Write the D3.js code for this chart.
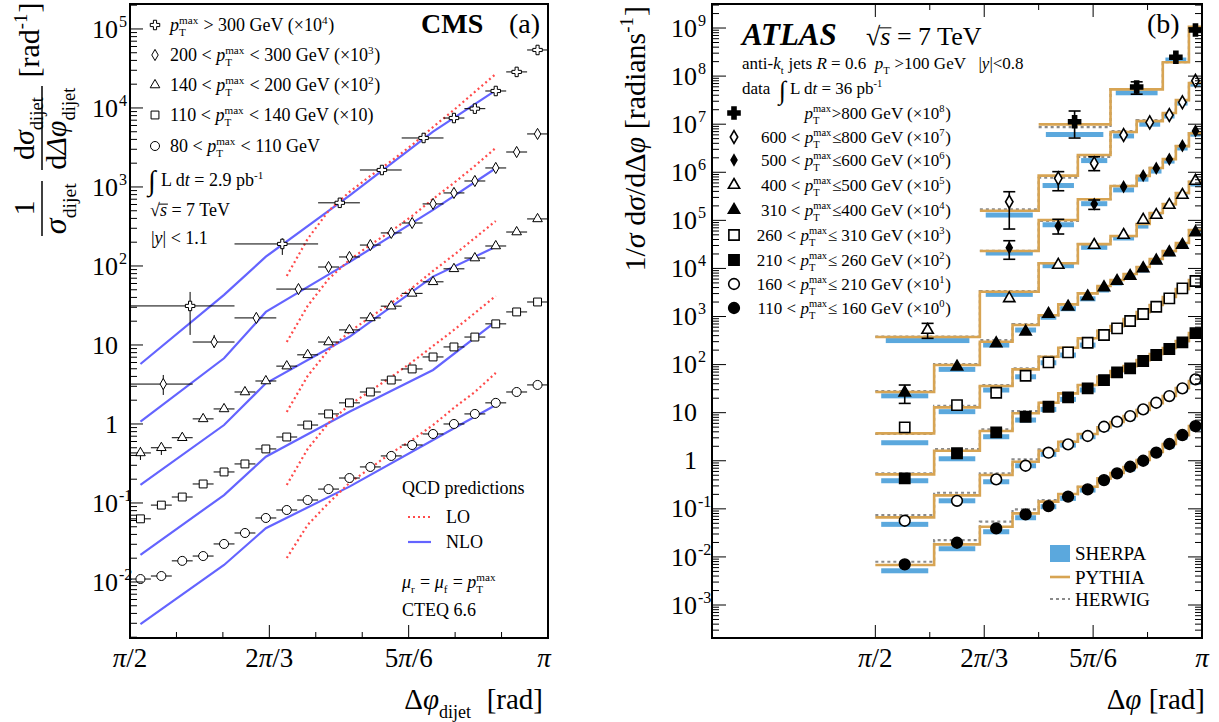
<!DOCTYPE html>
<html>
<head>
<meta charset="utf-8">
<script src="https://cdn.jsdelivr.net/npm/d3@7"></script>
<style>
body { margin: 0; background: #fff; }
svg { font-family: "Liberation Serif", "Times New Roman", serif; }
svg text { white-space: pre; fill: #000; }
</style>
</head>
<body>
<svg id="chart" width="1219" height="722"></svg>
<script>
// ---------- (a) CMS : x in units of pi ----------
const cmsBins = [0.5125, 0.5375, 0.5625, 0.5875, 0.6125, 0.6375, 0.6625, 0.6875, 0.7125, 0.7375,
  0.7625, 0.7875, 0.8125, 0.8375, 0.8625, 0.8875, 0.9125, 0.9375, 0.9625, 0.9875];
const cmsHalfBin = 0.0125;

const cmsCircle = [0.0109, 0.0119, 0.0185, 0.0213, 0.0303, 0.0417, 0.0646, 0.0815, 0.109, 0.150,
  0.207, 0.286, 0.394, 0.542, 0.747, 1.0, 1.34, 1.85, 2.54, 3.12];
const cmsSquare = [0.063, 0.094, 0.119, 0.174, 0.247, 0.312, 0.483, 0.684, 0.97, 1.34,
  1.85, 2.54, 3.6, 4.97, 7.05, 9.44, 12.6, 18.5, 26.2, 35];
const cmsTriangle = [0.43, 0.50, 0.67, 1.16, 1.55, 2.54, 3.5, 5.4, 7.5, 10.9,
  15.5, 22, 31, 45, 63, 92, 126, 179, 269, 394];
const cmsTriangleErr = [[0.35, 0.512], [0.405, 0.57]];

const cmsDiamondX = [0.5398, 0.6007, 0.6511, 0.7015, 0.7375, 0.7625, 0.7875, 0.8125, 0.8375, 0.8625, 0.8875, 0.9125, 0.9375, 0.9625, 0.9875];
const cmsDiamondLo = [0.5, 0.575, 0.625, 0.675, 0.725, 0.75, 0.775, 0.8, 0.825, 0.85, 0.875, 0.9, 0.925, 0.95, 0.975];
const cmsDiamondHi = [0.575, 0.625, 0.675, 0.725, 0.75, 0.775, 0.8, 0.825, 0.85, 0.875, 0.9, 0.925, 0.95, 0.975, 1.0];
const cmsDiamond = [3.2, 10.9, 22.0, 51, 97, 130, 184, 262, 350, 610, 840, 1190, 1740, 2770, 4690];
const cmsDiamondErr = [[2.33, 4.17], [9.2, 13.4]];

const cmsCrossX = [0.5719, 0.6822, 0.7509, 0.8013, 0.8512, 0.8875, 0.9125, 0.9375, 0.9625, 0.9875];
const cmsCrossLo = [0.5, 0.625, 0.725, 0.775, 0.825, 0.875, 0.9, 0.925, 0.95, 0.975];
const cmsCrossHi = [0.625, 0.725, 0.775, 0.825, 0.875, 0.9, 0.925, 0.95, 0.975, 1.0];
const cmsCross = [31.2, 190, 630, 1640, 4170, 7460, 9800, 16400, 28600, 54200];
const cmsCrossErr = [[13.4, 46.9], [138, 224], [558, 684]];

// NLO (solid) and LO (dotted) predictions
const nloX = [0.5125, 0.6125, 0.6625, 0.7625, 0.8625, 0.9375];
const nloCross = [5.74, 43, 131, 776, 5012, 16700];
const nloDiamond = [1.07, 6.79, 26.2, 112, 512, 1726];
const nloTriangle = [0.169, 0.97, 3.27, 12.7, 73.3, 175];
const nloSquare = [0.022, 0.126, 0.385, 1.43, 4.83, 19.7];
const nloCircle = [0.00292, 0.0164, 0.0479, 0.161, 0.627, 1.74];

const loX = [0.6875, 0.7125, 0.7375, 0.7625, 0.7875, 0.8125, 0.8375, 0.8625, 0.8875, 0.9125, 0.9375];
const loCross = [74.7, 220, 497, 865, 1377, 2133, 3404, 5744, 9441, 15950, 26940];
const loDiamond = [10.9, 31.2, 68.4, 119, 185, 277, 430, 705, 1125, 1845, 3119];
const loTriangle = [1.42, 4.05, 8.65, 14.6, 22.6, 34.0, 52.7, 86.5, 138, 226, 371];
const loSquare = [0.169, 0.483, 1.03, 1.74, 2.62, 3.94, 6.1, 9.71, 15.5, 25.4, 41.7];
const loCircle = [0.0201, 0.0527, 0.1, 0.179, 0.277, 0.43, 0.627, 0.97, 1.6, 2.54, 4.43];

const cmsLegend = [
  '~p~_{T}^{max} > 300 GeV (×10^{4})',
  '200 < ~p~_{T}^{max} < 300 GeV (×10^{3})',
  '140 < ~p~_{T}^{max} < 200 GeV (×10^{2})',
  '110 < ~p~_{T}^{max} < 140 GeV (×10)',
  '80 < ~p~_{T}^{max} < 110 GeV'
];

// ---------- (b) ATLAS ----------
const atlasEdges = [0.5, 0.59, 0.66, 0.71, 0.75, 0.78, 0.81, 0.84, 0.86, 0.88, 0.90, 0.92, 0.94, 0.96, 0.98, 1.0];
const atlasEdges400 = [0.5, 0.66, 0.75, 0.81, 0.86, 0.90, 0.92, 0.94, 0.96, 0.98, 1.0];
const atlasEdges500 = [0.66, 0.75, 0.81, 0.86, 0.90, 0.92, 0.94, 0.96, 0.98, 1.0];
const atlasEdges600 = [0.66, 0.75, 0.81, 0.86, 0.90, 0.94, 0.96, 0.98, 1.0];
const atlasEdges800 = [0.75, 0.86, 0.94, 0.98, 1.0];

const data110 = [0.00701, 0.0197, 0.0393, 0.0767, 0.114, 0.179, 0.255, 0.397, 0.547, 0.751, 1.0, 1.47, 2.23, 3.43, 5.27];
const pythia110 = [0.00678, 0.0182, 0.0425, 0.0805, 0.141, 0.203, 0.288, 0.431, 0.556, 0.74, 1.035, 1.52, 2.23, 3.43, 5.27];
const sherpa110 = [0.00515, 0.0148, 0.0334, 0.0653, 0.111, 0.165, 0.246, 0.378, 0.505, 0.673, 0.94, 1.38, 2.02, 3.11, 4.8];
const herwig110 = [0.00794, 0.0224, 0.054, 0.0977, 0.152, 0.203, 0.288, 0.431, 0.556, 0.74, 1.035, 1.52, 2.23, 3.43, 5.27];

const data160 = [0.0565, 0.147, 0.41, 0.787, 1.47, 2.19, 3.27, 5.1, 6.49, 8.5, 11.7, 16.1, 22.2, 32.1, 49.3];
const pythia160 = [0.0665, 0.191, 0.505, 0.955, 1.61, 2.49, 3.6, 4.95, 6.38, 8.51, 11.4, 15.8, 22.2, 32.5, 45.5];
const sherpa160 = [0.0476, 0.147, 0.366, 0.787, 1.36, 2.12, 3.16, 4.57, 5.81, 7.74, 10.8, 15.1, 21.1, 29.6, 43.4];
const herwig160 = [0.0743, 0.216, 0.547, 1.07, 1.73, 2.49, 3.6, 4.95, 6.38, 8.51, 11.4, 15.8, 22.2, 32.5, 45.5];

const data210 = [0.431, 1.43, 3.9, 8.24, 13.3, 20.8, 32.1, 47.7, 69, 83.6, 119, 158, 211, 290, 450];
const pythia210 = [0.522, 1.61, 4.15, 9.7, 16.1, 25.2, 37.6, 55.8, 73.5, 93.3, 124, 166, 221, 309, 453];
const sherpa210 = [0.384, 1.1, 3.16, 7.03, 11.7, 18.9, 29.6, 45.5, 63.7, 84.7, 113, 151, 201, 281, 412];
const herwig210 = [0.547, 1.75, 4.5, 10.8, 16.1, 25.2, 37.6, 55.8, 73.5, 93.3, 124, 166, 221, 309, 453];

const data260 = [4.95, 14.4, 26.0, 58.6, 111, 180, 285, 412, 568, 805, 1127, 1596, 2390, 3855, 5470];
const pythia260 = [3.72, 12.9, 35.8, 79.6, 146, 224, 352, 506, 634, 887, 1240, 1734, 2541, 3724, 5741];
const sherpa260 = [2.37, 10.5, 29.6, 55.8, 109, 158, 255, 374, 524, 767, 1074, 1574, 2312, 3556, 5212];
const herwig260 = [3.6, 13.8, 37.6, 83.6, 146, 224, 352, 506, 634, 887, 1240, 1734, 2541, 3724, 5741];

const data310 = [26, 90.2, 277, 482, 1127, 1596, 2606, 4046, 5470, 6950, 10000, 14500, 21600, 30700, 56000];
const pythia310 = [27, 98, 299, 665, 1059, 1790, 3030, 4300, 5740, 7660, 10700, 15700, 23000, 33700, 63000];
const sherpa310 = [22.4, 79.6, 255, 524, 966, 1452, 2333, 3560, 4970, 6620, 9270, 13600, 20000, 29200, 54500];
const herwig310 = [28.2, 103, 324, 698, 1059, 1790, 3030, 4300, 5740, 7660, 10700, 15700, 23000, 33700, 63000];
const err310 = [[15.6, 37.6]];

const data400 = [524, 2390, 11800, 30700, 49600, 102000, 129000, 208000, 337000, 660000];
const pythia400 = [374, 3270, 12800, 32000, 47200, 84000, 142000, 218000, 370000, 630000];
const sherpa400 = [316, 2890, 11400, 27500, 43000, 76000, 129000, 199000, 337000, 570000];
const herwig400 = [380, 3390, 12900, 32000, 47200, 84000, 142000, 218000, 370000, 630000];
const err400 = [[352, 721]];

const data500 = [2.7e4, 7.6e4, 2.18e5, 5.0e5, 8.5e5, 1.21e6, 1.86e6, 3.56e6, 7.2e6];
const pythia500 = [2.3e4, 1.02e5, 2.74e5, 5.2e5, 8.4e5, 1.23e6, 1.88e6, 3.5e6, 6.5e6];
const sherpa500 = [2.09e4, 8.1e4, 2.22e5, 4.3e5, 7.2e5, 1.06e6, 1.71e6, 3.2e6, 6.2e6];
const herwig500 = [2.33e4, 9.7e4, 2.77e5, 5.2e5, 8.4e5, 1.23e6, 1.88e6, 3.5e6, 6.5e6];
const err500 = [[1.55e4, 3.77e4], [5.2e4, 1.05e5], [1.69e5, 2.65e5]];

const data600 = [2.44e5, 7.48e5, 1.53e6, 5.96e6, 1.09e7, 1.55e7, 2.85e7, 8.0e7];
const pythia600 = [1.58e5, 8.5e5, 2.28e6, 6.9e6, 1.16e7, 1.71e7, 3.16e7, 7.2e7];
const sherpa600 = [1.29e5, 5.3e5, 1.75e6, 5.7e6, 1.0e7, 1.48e7, 2.75e7, 6.8e7];
const herwig600 = [1.69e5, 7.7e5, 2.1e6, 7.2e6, 1.22e7, 1.71e7, 3.16e7, 7.2e7];
const err600 = [[6.6e4, 3.94e5], [4.13e5, 1.03e6], [1.08e6, 2.1e6]];

const data800 = [1.12e7, 5.93e7, 2.46e8, 9.1e8];
const pythia800 = [9.9e6, 5.3e7, 1.94e8, 1.06e9];
const sherpa800 = [6.1e6, 4.5e7, 2.16e8, 9.8e8];
const herwig800 = [8.7e6, 5.4e7, 1.96e8, 1.05e9];
const err800 = [[5.15e6, 1.88e7], [4.2e7, 7.6e7]];

const atlasLegend = [
  '~p~_{T}^{max}>800 GeV (×10^{8})',
  '600 < ~p~_{T}^{max}≤800 GeV (×10^{7})',
  '500 < ~p~_{T}^{max}≤600 GeV (×10^{6})',
  '400 < ~p~_{T}^{max}≤500 GeV (×10^{5})',
  '310 < ~p~_{T}^{max}≤400 GeV (×10^{4})',
  '260 < ~p~_{T}^{max}≤ 310 GeV (×10^{3})',
  '210 < ~p~_{T}^{max}≤ 260 GeV (×10^{2})',
  '160 < ~p~_{T}^{max}≤ 210 GeV (×10^{1})',
  '110 < ~p~_{T}^{max}≤ 160 GeV (×10^{0})'
];

const xTickVals = [1 / 2, 2 / 3, 5 / 6, 1];
const xTickLabels = ['~π~/2', '2~π~/3', '5~π~/6', '~π~'];
const cmsXMinor = [5 / 9, 11 / 18, 13 / 18, 7 / 9, 8 / 9, 17 / 18];
const atlasXMinor = [7 / 12, 3 / 4, 11 / 12];

// ---------- helpers ----------
const svg = d3.select('#chart');

// ~ toggles italic, ` toggles overline, _{..} sub, ^{..} sup (stacked when adjacent)
function parse(s) {
  const out = [];
  let it = false, ov = false, buf = '', i = 0;
  const flush = () => { if (buf) out.push({t: buf, it, ov}); buf = ''; };
  while (i < s.length) {
    const c = s[i];
    if (c === '~') { flush(); it = !it; i++; continue; }
    if (c === '`') { flush(); ov = !ov; i++; continue; }
    if ((c === '_' || c === '^') && s[i + 1] === '{') {
      flush();
      const j = s.indexOf('}', i);
      const key = c === '_' ? 'sub' : 'sup';
      const prev = out[out.length - 1];
      if (prev && prev.script && prev.end === i && !prev[key]) prev[key] = s.slice(i + 2, j);
      else out.push({script: true, [key]: s.slice(i + 2, j)});
      out[out.length - 1].end = j + 1;
      i = j + 1;
      continue;
    }
    buf += c; i++;
  }
  flush();
  return out;
}

function rich(g, x, y, s, fs, anchor = 'start', weight = 'normal', forceItalic = false) {
  const grp = g.append('g');
  let w = 0;
  parse(s).forEach(p => {
    if (p.script) {
      let sw = 0;
      [['sup', -0.4], ['sub', 0.3]].forEach(([k, off]) => {
        if (!p[k]) return;
        const t = grp.append('text').attr('x', w).attr('y', off * fs)
          .style('font-size', (fs * 0.62) + 'px').text(p[k]);
        sw = Math.max(sw, t.node().getComputedTextLength());
      });
      w += sw + fs * 0.04;
    } else {
      const t = grp.append('text').attr('x', w).attr('y', 0)
        .style('font-size', fs + 'px')
        .style('font-style', (p.it || forceItalic) ? 'italic' : 'normal')
        .style('font-weight', weight)
        .text(p.t);
      const tw = t.node().getComputedTextLength();
      if (p.ov) {
        grp.append('line').attr('x1', w - 1).attr('x2', w + tw + 1)
          .attr('y1', -fs * 0.66).attr('y2', -fs * 0.66).attr('stroke', '#000').attr('stroke-width', 1);
      }
      w += tw;
    }
  });
  const dx = anchor === 'end' ? -w : anchor === 'middle' ? -w / 2 : 0;
  grp.attr('transform', `translate(${x + dx},${y})`);
  return w;
}

function marker(g, type, x, y, filled, size, sw = 1.2) {
  g.append('path')
    .attr('transform', `translate(${x},${y})`)
    .attr('d', d3.symbol().type(type).size(size)())
    .attr('fill', filled ? '#000' : '#fff')
    .attr('stroke', '#000')
    .attr('stroke-width', sw);
}

function logTicks(g, y, x0, dir, maj, min) {
  const [lo, hi] = y.domain();
  for (let k = Math.floor(Math.log10(lo)); k <= Math.ceil(Math.log10(hi)); k++) {
    for (let m = 1; m <= 9; m++) {
      const v = m * Math.pow(10, k);
      if (v < lo || v > hi) continue;
      const len = m === 1 ? maj : min;
      g.append('line').attr('x1', x0).attr('x2', x0 + dir * len)
        .attr('y1', y(v)).attr('y2', y(v)).attr('stroke', '#000').attr('stroke-width', 1);
    }
  }
}

function logLabels(g, y, xr, fs, kmin, kmax) {
  for (let k = kmin; k <= kmax; k++) {
    const yy = y(Math.pow(10, k)) + fs * 0.33;
    if (k === 0 || k === 1) {
      g.append('text').attr('x', xr).attr('y', yy).attr('text-anchor', 'end')
        .style('font-size', fs + 'px').text(k === 0 ? '1' : '10');
    } else {
      g.append('text').attr('x', xr).attr('y', yy).attr('text-anchor', 'end')
        .style('font-size', fs + 'px').text('10');
      g.append('text').attr('x', xr + 1).attr('y', yy - fs * 0.42)
        .style('font-size', (fs * 0.62) + 'px').text(String(k));
    }
  }
}

function xTicks(g, x, yb, vals, len, dir) {
  vals.forEach(v => g.append('line').attr('x1', x(v)).attr('x2', x(v))
    .attr('y1', yb).attr('y2', yb + dir * len).attr('stroke', '#000').attr('stroke-width', 1));
}

// ================= Panel (a) CMS =================
const cx = d3.scaleLinear().domain([0.5, 1]).range([130, 548]);
const cy = d3.scaleLog().domain([1.954e-3, 2.07e5]).range([638, 4]);
const gA = svg.append('g');

const nloColor = '#6464ff', loColor = '#ff4a4a';
const cmsLine = d3.line().x(d => cx(d[0])).y(d => cy(d[1]));
[nloCross, nloDiamond, nloTriangle, nloSquare, nloCircle].forEach(arr => {
  gA.append('path').datum(arr.map((v, i) => [nloX[i], v]))
    .attr('fill', 'none').attr('stroke', nloColor).attr('stroke-width', 2.2).attr('d', cmsLine);
});
[loCross, loDiamond, loTriangle, loSquare, loCircle].forEach(arr => {
  gA.append('path').datum(arr.map((v, i) => [loX[i], v]))
    .attr('fill', 'none').attr('stroke', loColor).attr('stroke-width', 2.2)
    .attr('stroke-dasharray', '2,3').attr('d', cmsLine);
});

const cmsSeries = [
  {type: d3.symbolCircle, size: 64, x: cmsBins, lo: cmsBins.map(c => c - cmsHalfBin), hi: cmsBins.map(c => c + cmsHalfBin), y: cmsCircle, err: []},
  {type: d3.symbolSquare, size: 62, x: cmsBins, lo: cmsBins.map(c => c - cmsHalfBin), hi: cmsBins.map(c => c + cmsHalfBin), y: cmsSquare, err: []},
  {type: d3.symbolTriangle, size: 40, x: cmsBins, lo: cmsBins.map(c => c - cmsHalfBin), hi: cmsBins.map(c => c + cmsHalfBin), y: cmsTriangle, err: cmsTriangleErr},
  {type: d3.symbolDiamond, size: 36, x: cmsDiamondX, lo: cmsDiamondLo, hi: cmsDiamondHi, y: cmsDiamond, err: cmsDiamondErr},
  {type: d3.symbolCross, size: 50, x: cmsCrossX, lo: cmsCrossLo, hi: cmsCrossHi, y: cmsCross, err: cmsCrossErr}
];

cmsSeries.forEach(s => {
  s.y.forEach((v, i) => {
    gA.append('line').attr('x1', cx(s.lo[i])).attr('x2', cx(s.hi[i]))
      .attr('y1', cy(v)).attr('y2', cy(v)).attr('stroke', '#000').attr('stroke-width', 1);
    if (s.err[i]) {
      gA.append('line').attr('x1', cx(s.x[i])).attr('x2', cx(s.x[i]))
        .attr('y1', cy(s.err[i][0])).attr('y2', cy(s.err[i][1])).attr('stroke', '#000').attr('stroke-width', 1);
    }
  });
  s.y.forEach((v, i) => marker(gA, s.type, cx(s.x[i]), cy(v), false, s.size, 1));
});

// frame + axes
gA.append('rect').attr('x', 130).attr('y', 4).attr('width', 418).attr('height', 634)
  .attr('fill', 'none').attr('stroke', '#000').attr('stroke-width', 2);
logTicks(gA, cy, 130, 1, 13, 7);
logLabels(gA, cy, 118, 26, -2, 5);
xTicks(gA, cx, 638, xTickVals, 13, -1);
xTicks(gA, cx, 638, cmsXMinor, 6, -1);
xTickVals.forEach((v, i) => rich(gA, cx(v) - (i === 3 ? 4 : 0), 667, xTickLabels[i], 27, 'middle'));
rich(gA, 543, 709, 'Δ~φ~_{dijet}  [rad]', 29, 'end');

// y title (rotated fractions)
const yt = gA.append('g').attr('transform', 'translate(42,0) rotate(-90)');
rich(yt, -208, -8, '1', 30, 'middle');
yt.append('line').attr('x1', -236).attr('x2', -181).attr('y1', 0).attr('y2', 0).attr('stroke', '#000').attr('stroke-width', 1.5);
rich(yt, -208, 24, '~σ~_{dijet}', 32, 'middle');
rich(yt, -128, -8, 'd~σ~_{dijet}', 30, 'middle');
yt.append('line').attr('x1', -170).attr('x2', -86).attr('y1', 0).attr('y2', 0).attr('stroke', '#000').attr('stroke-width', 1.5);
rich(yt, -128, 24, 'd~Δφ~_{dijet}', 30, 'middle');
rich(yt, -40, -3, '[rad^{-1}]', 30, 'middle');

// legend (a)
const legTypes = [[d3.symbolCross, 50], [d3.symbolDiamond, 36], [d3.symbolTriangle, 40], [d3.symbolSquare, 62], [d3.symbolCircle, 64]];
const legRowsA = [25, 55, 85, 115, 146];
cmsLegend.forEach((t, i) => {
  marker(gA, legTypes[i][0], 155, legRowsA[i], false, legTypes[i][1], 1);
  rich(gA, 170, legRowsA[i] + 6, t, 18);
});
gA.append('text').attr('x', 148).attr('y', 190).style('font-size', '28px').text('∫');
rich(gA, 161, 186, 'L d~t~ = 2.9 pb^{-1}', 18);
rich(gA, 150, 216, '√~`s`~ = 7 TeV', 18);
rich(gA, 151, 244, '|~y~| < 1.1', 18);
rich(gA, 421, 33, 'CMS', 28, 'start', 'bold');
rich(gA, 509, 33, '(a)', 28);

rich(gA, 402, 494, 'QCD predictions', 18);
gA.append('line').attr('x1', 408).attr('x2', 431).attr('y1', 517).attr('y2', 517)
  .attr('stroke', loColor).attr('stroke-width', 2.2).attr('stroke-dasharray', '2,3');
rich(gA, 446, 523, 'LO', 18);
gA.append('line').attr('x1', 408).attr('x2', 431).attr('y1', 542).attr('y2', 542)
  .attr('stroke', nloColor).attr('stroke-width', 2.2);
rich(gA, 446, 548, 'NLO', 18);
rich(gA, 402, 588, '~μ~_{r} = ~μ~_{f} = ~p~_{T}^{max}', 18);
rich(gA, 402, 616, 'CTEQ 6.6', 18);

// ================= Panel (b) ATLAS =================
const ax = d3.scaleLinear().domain([0.25, 1]).range([712, 1202]);
const ay = d3.scaleLog().domain([2.06e-4, 3.16e9]).range([638, 4]);
const gB = svg.append('g');

const atlasSeries = [
  {edges: atlasEdges, d: data110, p: pythia110, s: sherpa110, h: herwig110, err: [], type: d3.symbolCircle, size: 90, fill: true},
  {edges: atlasEdges, d: data160, p: pythia160, s: sherpa160, h: herwig160, err: [], type: d3.symbolCircle, size: 90, fill: false},
  {edges: atlasEdges, d: data210, p: pythia210, s: sherpa210, h: herwig210, err: [], type: d3.symbolSquare, size: 105, fill: true},
  {edges: atlasEdges, d: data260, p: pythia260, s: sherpa260, h: herwig260, err: [], type: d3.symbolSquare, size: 105, fill: false},
  {edges: atlasEdges, d: data310, p: pythia310, s: sherpa310, h: herwig310, err: err310, type: d3.symbolTriangle, size: 55, fill: true},
  {edges: atlasEdges400, d: data400, p: pythia400, s: sherpa400, h: herwig400, err: err400, type: d3.symbolTriangle, size: 55, fill: false},
  {edges: atlasEdges500, d: data500, p: pythia500, s: sherpa500, h: herwig500, err: err500, type: d3.symbolDiamond, size: 30, fill: true},
  {edges: atlasEdges600, d: data600, p: pythia600, s: sherpa600, h: herwig600, err: err600, type: d3.symbolDiamond, size: 48, fill: false},
  {edges: atlasEdges800, d: data800, p: pythia800, s: sherpa800, h: herwig800, err: err800, type: d3.symbolCross, size: 80, fill: true}
];

const sherpaColor = '#5ba8dd', pythiaColor = '#d7a453', herwigColor = '#8a8a8a';
const stepLine = d3.line().x(d => ax(d[0])).y(d => ay(d[1]));
const stepPts = (edges, vals) => vals.flatMap((v, i) => [[edges[i], v], [edges[i + 1], v]]);

atlasSeries.forEach(s => {
  s.s.forEach((v, i) => {
    const w = s.edges[i + 1] - s.edges[i];
    gB.append('rect').attr('x', ax(s.edges[i] + 0.1 * w)).attr('width', ax(s.edges[i] + 0.9 * w) - ax(s.edges[i] + 0.1 * w))
      .attr('y', ay(v) - 2.5).attr('height', 5).attr('fill', sherpaColor);
  });
});
atlasSeries.forEach(s => {
  gB.append('path').datum(stepPts(s.edges, s.h)).attr('fill', 'none').attr('stroke', herwigColor)
    .attr('stroke-width', 2.2).attr('stroke-dasharray', '3,3').attr('d', stepLine);
  gB.append('path').datum(stepPts(s.edges, s.p)).attr('fill', 'none').attr('stroke', pythiaColor)
    .attr('stroke-width', 2.6).attr('d', stepLine);
});
atlasSeries.forEach(s => {
  s.d.forEach((v, i) => {
    const xc = ax((s.edges[i] + s.edges[i + 1]) / 2);
    if (s.err[i]) {
      const [e0, e1] = s.err[i];
      gB.append('line').attr('x1', xc).attr('x2', xc).attr('y1', ay(e0)).attr('y2', ay(e1)).attr('stroke', '#000').attr('stroke-width', 1.6);
      [e0, e1].forEach(e => gB.append('line').attr('x1', xc - 6).attr('x2', xc + 6).attr('y1', ay(e)).attr('y2', ay(e))
        .attr('stroke', '#000').attr('stroke-width', 1.6));
    }
    marker(gB, s.type, xc, ay(v), s.fill, s.size, 1.6);
  });
});

// frame + axes
gB.append('rect').attr('x', 712).attr('y', 4).attr('width', 490).attr('height', 634)
  .attr('fill', 'none').attr('stroke', '#000').attr('stroke-width', 2);
logTicks(gB, ay, 712, 1, 14, 7);
logTicks(gB, ay, 1202, -1, 14, 7);
logLabels(gB, ay, 697, 26, -3, 9);
xTicks(gB, ax, 638, xTickVals, 13, -1);
xTicks(gB, ax, 638, atlasXMinor, 6, -1);
xTicks(gB, ax, 4, xTickVals, 13, 1);
xTicks(gB, ax, 4, atlasXMinor, 6, 1);
xTickVals.forEach((v, i) => rich(gB, ax(v), 667, xTickLabels[i], 27, 'middle'));
rich(gB, 1205, 709, 'Δ~φ~ [rad]', 29, 'end');

const yt2 = gB.append('g').attr('transform', 'translate(645,6) rotate(-90)');
rich(yt2, 0, 0, '1/~σ~ d~σ~/dΔ~φ~ [radians^{-1}]', 30, 'end');

// texts (b)
rich(gB, 742, 45, 'ATLAS', 31, 'start', 'bold', true);
rich(gB, 866, 45, '√~`s`~ = 7 TeV', 26);
rich(gB, 742, 69, 'anti-~k~_{t} jets ~R~ = 0.6  ~p~_{T} >100 GeV   |~y~|<0.8', 17);
rich(gB, 742, 94, 'data', 17);
gB.append('text').attr('x', 779).attr('y', 99).style('font-size', '26px').text('∫');
rich(gB, 790, 94, 'L d~t~ = 36 pb^{-1}', 17);
rich(gB, 1147, 33, '(b)', 28);

const legRowsB = [113, 137, 160, 185, 210, 235, 260, 284, 308];
atlasLegend.forEach((t, i) => {
  const s = atlasSeries[8 - i];
  marker(gB, s.type, 734, legRowsB[i], s.fill, s.size, 1.6);
  rich(gB, 951, legRowsB[i] + 6, t, 17, 'end');
});

gB.append('rect').attr('x', 1050).attr('y', 545).attr('width', 20).attr('height', 17).attr('fill', sherpaColor);
rich(gB, 1075, 560, 'SHERPA', 19);
gB.append('line').attr('x1', 1050).attr('x2', 1070).attr('y1', 577).attr('y2', 577).attr('stroke', pythiaColor).attr('stroke-width', 2.6);
rich(gB, 1075, 584, 'PYTHIA', 19);
gB.append('line').attr('x1', 1050).attr('x2', 1070).attr('y1', 599).attr('y2', 599).attr('stroke', herwigColor)
  .attr('stroke-width', 2.2).attr('stroke-dasharray', '3,3');
rich(gB, 1075, 606, 'HERWIG', 19);
</script>
</body>
</html>
